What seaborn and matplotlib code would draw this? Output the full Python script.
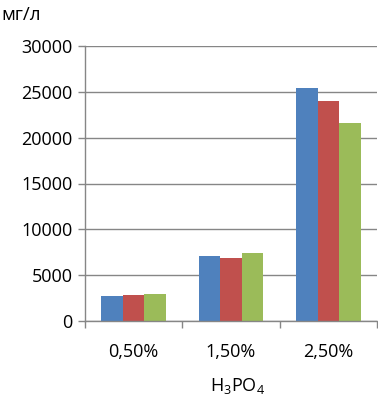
import matplotlib
matplotlib.use("Agg")
import matplotlib.pyplot as plt
import seaborn as sns
import pandas as pd
import numpy as np

categories = ["0,50%", "1,50%", "2,50%"]
series_names = ["Серия 1", "Серия 2", "Серия 3"]
series1 = [2780, 7050, 25450]
series2 = [2850, 6920, 24020]
series3 = [2960, 7460, 21620]
y_ticks = [0, 5000, 10000, 15000, 20000, 25000, 30000]
colors = ["#4F81BD", "#C0504D", "#9BBB59"]

rows = []
for name, vals in zip(series_names, [series1, series2, series3]):
    for c, v in zip(categories, vals):
        rows.append({"cat": c, "series": name, "val": v})
df = pd.DataFrame(rows)

sns.set_theme(style="white")
plt.rcParams['font.family'] = ['Open Sans', 'DejaVu Sans']
plt.rcParams['mathtext.fontset'] = 'custom'
plt.rcParams['mathtext.rm'] = 'Open Sans'
plt.rcParams['text.color'] = 'black'
plt.rcParams['xtick.color'] = 'black'
plt.rcParams['ytick.color'] = 'black'
plt.rcParams['axes.labelcolor'] = 'black'

fig = plt.figure(figsize=(3.78, 3.97), dpi=100)
ax = fig.add_axes([85/378, 1-321/397, (377-85)/378, (321-46)/397])

sns.barplot(data=df, x="cat", y="val", hue="series", order=categories,
            hue_order=series_names, palette=colors, width=0.667,
            saturation=1, ax=ax, legend=False, linewidth=0, gap=0)

fs = 13
ax.set_ylim(0, 30000)
ax.set_xlim(-0.5, 2.5)
ax.set_yticks(y_ticks)
ax.set_yticklabels([str(t) for t in y_ticks], fontsize=fs)
ax.yaxis.grid(True, color="#868686", linewidth=1)
ax.set_axisbelow(True)
ax.tick_params(axis="y", length=5, color="#868686", labelcolor="black", width=1, pad=4, left=True)

ax.set_xticks([-0.5, 0.5, 1.5, 2.5])
ax.set_xticklabels([])
ax.tick_params(axis="x", which="major", length=5, color="#868686", width=1, bottom=True)
ax.set_xticks([0, 1, 2], minor=True)
ax.set_xticklabels(categories, minor=True, fontsize=fs)
ax.tick_params(axis="x", which="minor", length=0, pad=16, labelcolor="black")

for s in ["top", "right"]:
    ax.spines[s].set_visible(False)
for s in ["left", "bottom"]:
    ax.spines[s].set_color("#868686")
    ax.spines[s].set_linewidth(1)

ax.set_xlabel("")
ax.set_ylabel("")
fig.text(238/378, 1-386/397, "H$_\\mathrm{3}$PO$_\\mathrm{4}$", fontsize=fs, va="center", ha="center", color="black")
fig.text(1/378, 1-15/397, "мг/л", fontsize=13.5, va="center", ha="left", color="black")

fig.savefig("out.png", dpi=100)
